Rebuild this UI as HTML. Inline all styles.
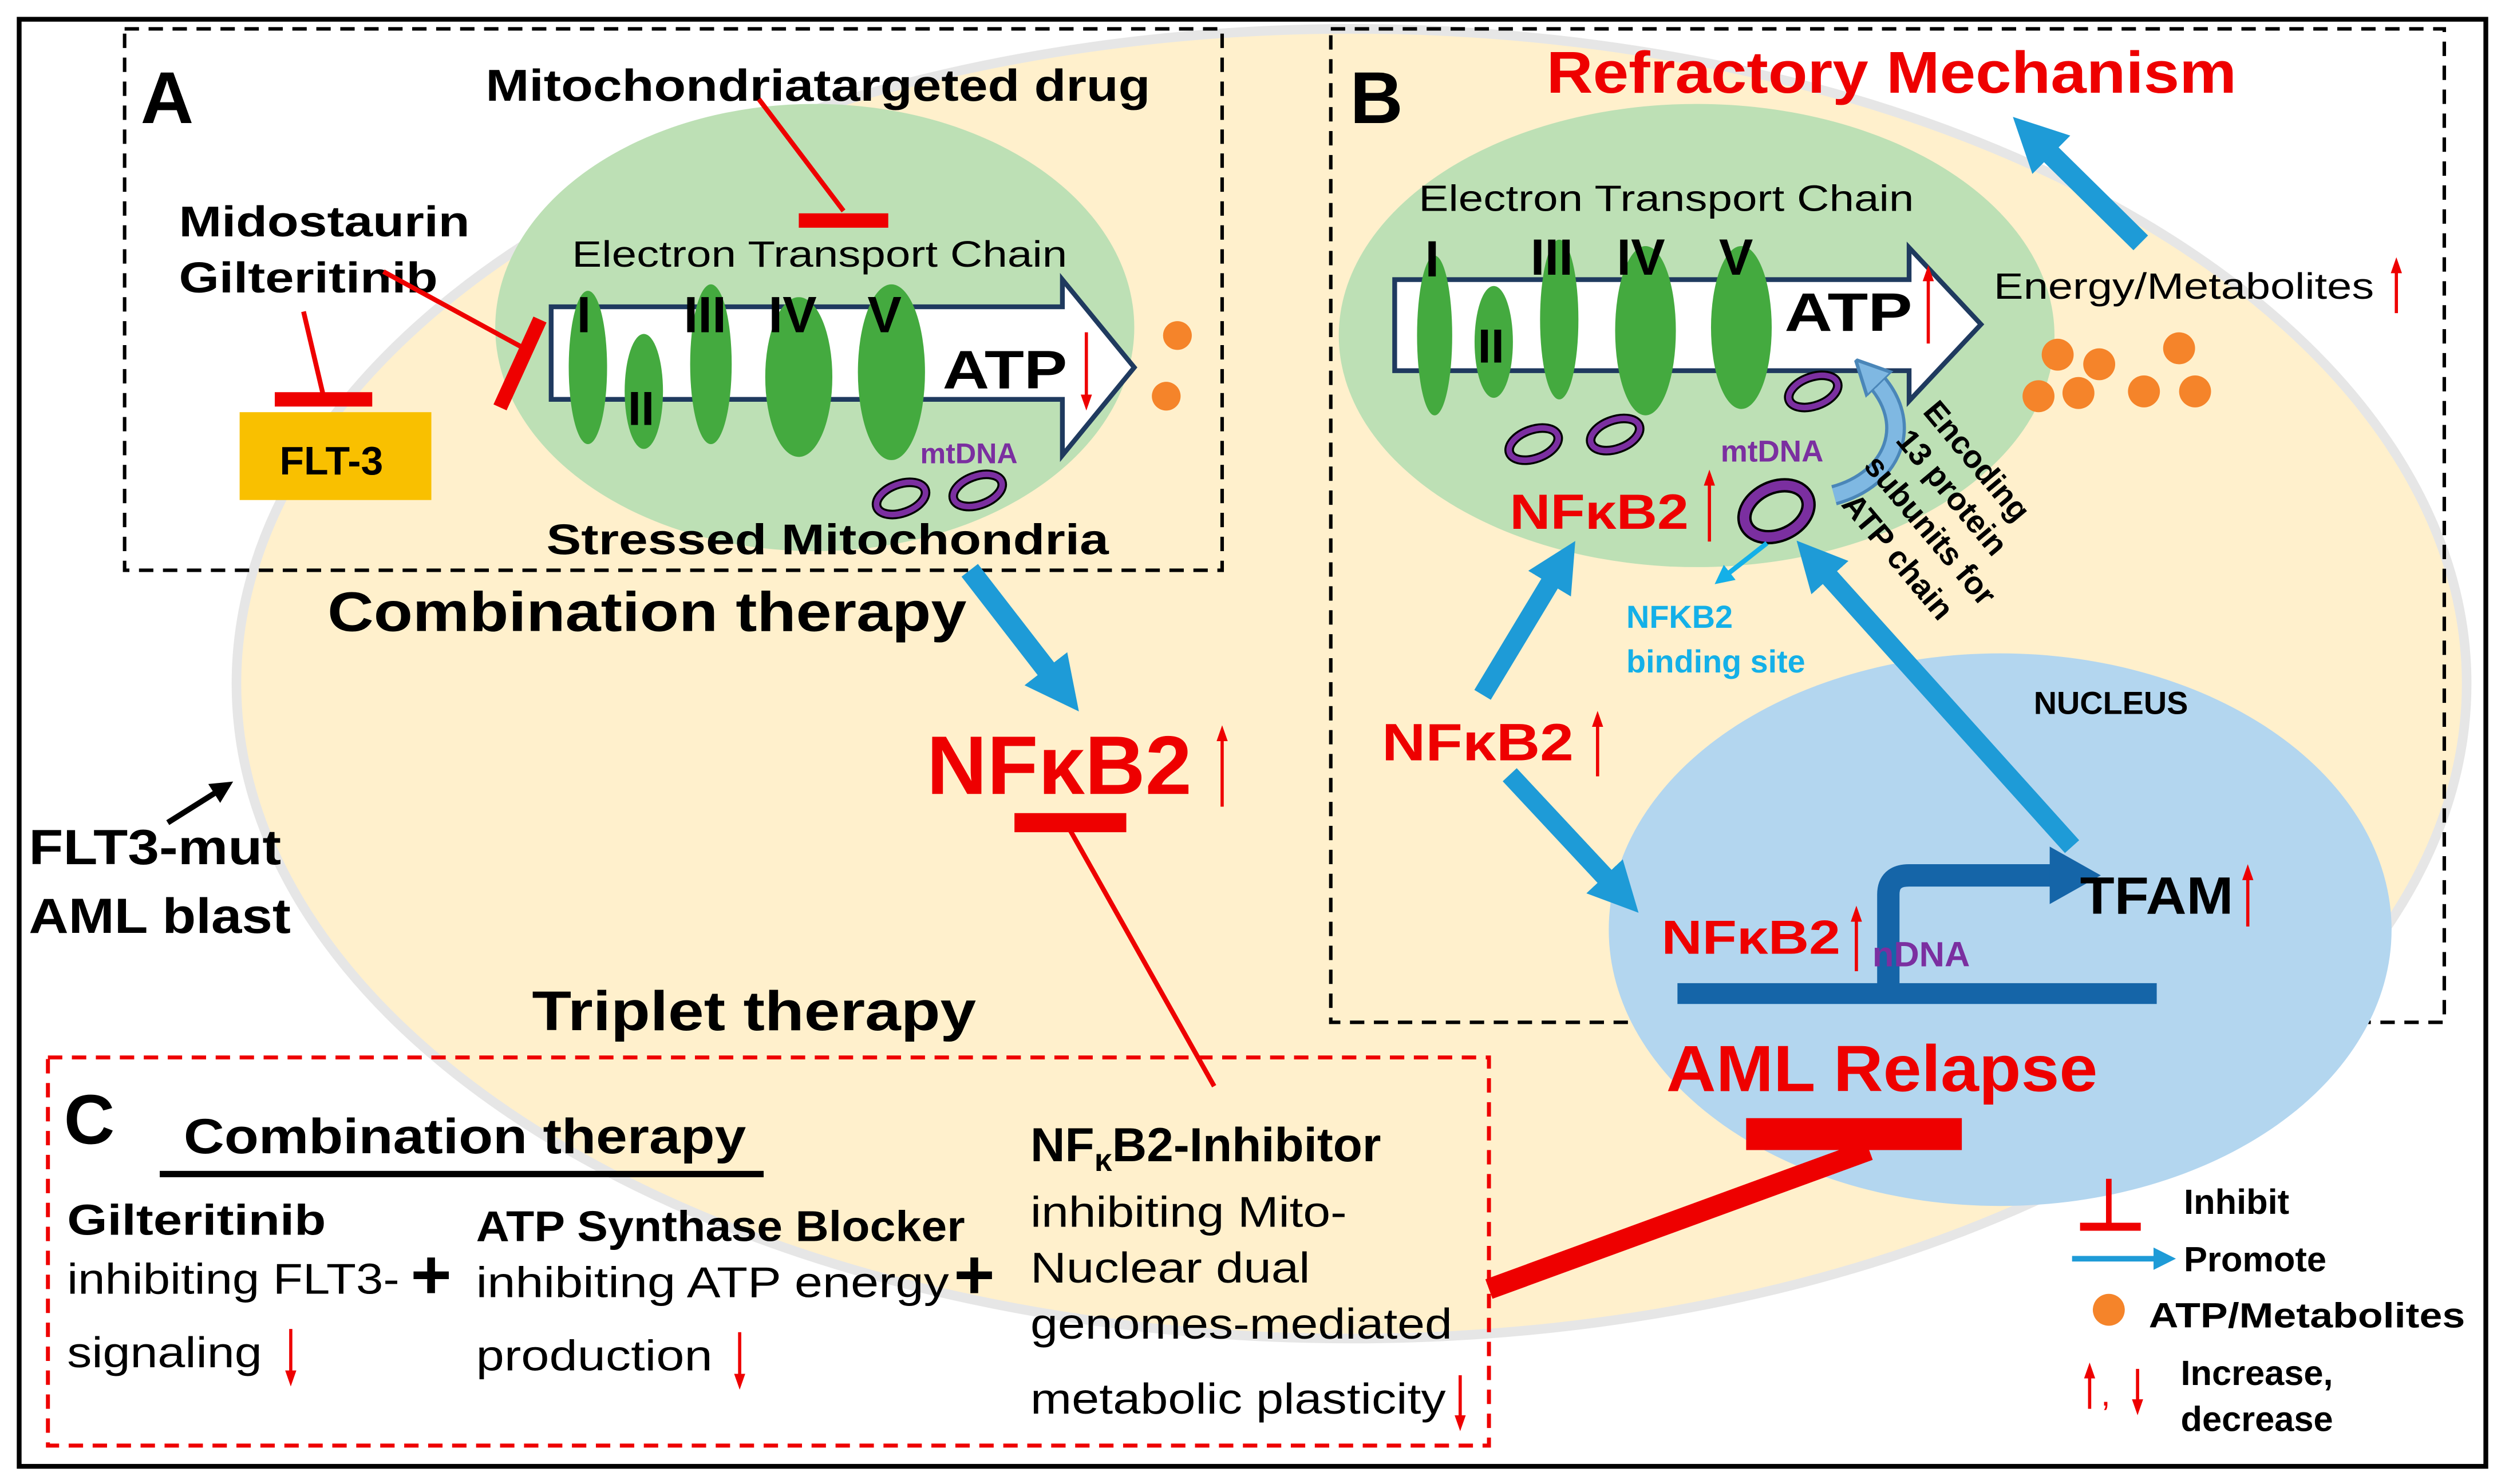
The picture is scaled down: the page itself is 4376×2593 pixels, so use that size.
<!DOCTYPE html>
<html><head><meta charset="utf-8"><style>
html,body{margin:0;padding:0;background:#fff;}
svg{display:block;}
text{font-family:"Liberation Sans",Arial,sans-serif;}
.b{font-weight:bold;}
</style></head><body>
<svg width="4376" height="2593" viewBox="0 0 1568 929" xmlns="http://www.w3.org/2000/svg">
<defs>
<marker id="ah" viewBox="0 0 10 10" refX="5" refY="5" markerWidth="2.6" markerHeight="2.6" orient="auto"><path d="M0,0 L10,5 L0,10 z" fill="#1E9BD7"/></marker>
<marker id="ahs" viewBox="0 0 10 10" refX="5" refY="5" markerWidth="4" markerHeight="4" orient="auto"><path d="M0,0 L10,5 L0,10 z" fill="#14B0E8"/></marker>
<marker id="ahk" viewBox="0 0 10 10" refX="5" refY="5" markerWidth="4" markerHeight="4" orient="auto"><path d="M0,0 L10,5 L0,10 z" fill="#000"/></marker>
<marker id="ahl" viewBox="0 0 10 10" refX="5" refY="5" markerWidth="4" markerHeight="4" orient="auto"><path d="M0,0 L10,5 L0,10 z" fill="#1E9BD7"/></marker>
<marker id="ahc" viewBox="0 0 10 10" refX="3" refY="5" markerWidth="2.4" markerHeight="3" orient="auto"><path d="M0,0 L10,5 L0,10 z" fill="#7FB8E2" stroke="#4A86B8" stroke-width="1"/></marker>
<marker id="ra" viewBox="0 0 10 10" refX="6" refY="5" markerWidth="5" markerHeight="5" orient="auto" markerUnits="strokeWidth"><path d="M0,1.5 L10,5 L0,8.5 z" fill="#E00"/></marker>
</defs>
<rect x="0" y="0" width="1568" height="929" fill="#fff"/>
<ellipse cx="846" cy="428" rx="698" ry="410" fill="#FFF0CC" stroke="#E6E6E6" stroke-width="6"/>
<rect x="12" y="12" width="1544" height="906" fill="none" stroke="#000" stroke-width="3"/>

<!-- Box A -->
<rect x="78" y="18" width="687" height="339" fill="none" stroke="#000" stroke-width="2.2" stroke-dasharray="9,6"/>
<text x="88" y="77" class="b" font-size="46">A</text>
<ellipse cx="510" cy="205" rx="200" ry="140" fill="#BDE0B5"/>
<path d="M345,192 L665,192 L665,175 L710,230 L665,285 L665,250 L345,250 Z" fill="#fff" stroke="#1F3A5F" stroke-width="3"/>
<ellipse cx="368" cy="230" rx="12" ry="48" fill="#44AA3F"/>
<ellipse cx="403" cy="245" rx="12" ry="36" fill="#44AA3F"/>
<ellipse cx="445" cy="228" rx="13" ry="50" fill="#44AA3F"/>
<ellipse cx="500" cy="236" rx="21" ry="50" fill="#44AA3F"/>
<ellipse cx="558" cy="233" rx="21" ry="55" fill="#44AA3F"/>
<text x="361" y="208" class="b" font-size="32">I</text>
<text x="393" y="266" class="b" font-size="30">II</text>
<text x="428" y="208" class="b" font-size="32">III</text>
<text x="481" y="208" class="b" font-size="32">IV</text>
<text x="543" y="208" class="b" font-size="32">V</text>
<text x="590" y="243" class="b" font-size="34" textLength="78" lengthAdjust="spacingAndGlyphs">ATP</text>
<text x="358" y="167" font-size="23" textLength="310" lengthAdjust="spacingAndGlyphs">Electron Transport Chain</text>
<circle cx="737" cy="210" r="9" fill="#F5842A"/>
<circle cx="730" cy="248" r="9" fill="#F5842A"/>
<ellipse cx="564" cy="312" rx="16" ry="9" fill="none" stroke="#000" stroke-width="6" transform="rotate(-20 564 312)"/>
<ellipse cx="564" cy="312" rx="16" ry="9" fill="none" stroke="#7B2FA0" stroke-width="3.5" transform="rotate(-20 564 312)"/>
<ellipse cx="612" cy="307" rx="16" ry="9" fill="none" stroke="#000" stroke-width="6" transform="rotate(-20 612 307)"/>
<ellipse cx="612" cy="307" rx="16" ry="9" fill="none" stroke="#7B2FA0" stroke-width="3.5" transform="rotate(-20 612 307)"/>
<text x="576" y="290" class="b" font-size="18" fill="#7B2FA0">mtDNA</text>
<text x="342" y="347" class="b" font-size="27" textLength="352" lengthAdjust="spacingAndGlyphs">Stressed Mitochondria</text>
<text x="304" y="63" class="b" font-size="28" textLength="416" lengthAdjust="spacingAndGlyphs">Mitochondriatargeted drug</text>
<line x1="475" y1="62" x2="528" y2="132" stroke="#E00" stroke-width="3"/>
<line x1="500" y1="138" x2="556" y2="138" stroke="#E00" stroke-width="9"/>
<text x="112" y="148" class="b" font-size="27" textLength="182" lengthAdjust="spacingAndGlyphs">Midostaurin</text>
<text x="112" y="183" class="b" font-size="27" textLength="162" lengthAdjust="spacingAndGlyphs">Gilteritinib</text>
<line x1="190" y1="195" x2="202" y2="246" stroke="#E00" stroke-width="3"/>
<line x1="172" y1="250" x2="233" y2="250" stroke="#E00" stroke-width="9"/>
<rect x="150" y="258" width="120" height="55" fill="#F9C000"/>
<text x="175" y="297" class="b" font-size="25">FLT-3</text>
<line x1="240" y1="170" x2="328" y2="218" stroke="#E00" stroke-width="3"/>
<line x1="313" y1="255" x2="338" y2="200" stroke="#E00" stroke-width="9"/>
<text x="205" y="395" class="b" font-size="35" textLength="400" lengthAdjust="spacingAndGlyphs">Combination therapy</text>
<line x1="607" y1="357" x2="665" y2="432" stroke="#1E9BD7" stroke-width="13" marker-end="url(#ah)"/>
<text x="580" y="497" class="b" font-size="52" fill="#E00" textLength="166" lengthAdjust="spacingAndGlyphs">NFκB2</text>
<line x1="635" y1="515" x2="705" y2="515" stroke="#E00" stroke-width="12"/>
<line x1="670" y1="520" x2="760" y2="680" stroke="#E00" stroke-width="3"/>
<text x="18" y="541" class="b" font-size="31" textLength="158" lengthAdjust="spacingAndGlyphs">FLT3-mut</text>
<text x="18" y="584" class="b" font-size="31" textLength="164" lengthAdjust="spacingAndGlyphs">AML blast</text>
<line x1="105" y1="515" x2="140" y2="493" stroke="#000" stroke-width="3.5" marker-end="url(#ahk)"/>
<text x="333" y="645" class="b" font-size="35" textLength="278" lengthAdjust="spacingAndGlyphs">Triplet therapy</text>

<!-- Box B -->
<rect x="833" y="18" width="697" height="622" fill="none" stroke="#000" stroke-width="2.2" stroke-dasharray="9,6"/>
<text x="845" y="77" class="b" font-size="46">B</text>
<text x="968" y="58" class="b" font-size="37" fill="#E00" textLength="432" lengthAdjust="spacingAndGlyphs">Refractory Mechanism</text>
<line x1="1340" y1="152" x2="1272" y2="85" stroke="#1E9BD7" stroke-width="13" marker-end="url(#ah)"/>
<ellipse cx="1062" cy="210" rx="224" ry="145" fill="#BDE0B5"/>
<path d="M873,175 L1195,175 L1195,155 L1240,203 L1195,251 L1195,232 L873,232 Z" fill="#fff" stroke="#1F3A5F" stroke-width="3"/>
<ellipse cx="898" cy="210" rx="11" ry="50" fill="#44AA3F"/>
<ellipse cx="935" cy="214" rx="12" ry="35" fill="#44AA3F"/>
<ellipse cx="976" cy="200" rx="12" ry="50" fill="#44AA3F"/>
<ellipse cx="1030" cy="207" rx="19" ry="53" fill="#44AA3F"/>
<ellipse cx="1090" cy="205" rx="19" ry="51" fill="#44AA3F"/>
<text x="892" y="173" class="b" font-size="32">I</text>
<text x="925" y="227" class="b" font-size="30">II</text>
<text x="958" y="172" class="b" font-size="32">III</text>
<text x="1012" y="172" class="b" font-size="32">IV</text>
<text x="1076" y="172" class="b" font-size="32">V</text>
<text x="1117" y="207" class="b" font-size="34" textLength="80" lengthAdjust="spacingAndGlyphs">ATP</text>
<text x="888" y="132" font-size="23" textLength="310" lengthAdjust="spacingAndGlyphs">Electron Transport Chain</text>
<text x="1248" y="187" font-size="23" textLength="238" lengthAdjust="spacingAndGlyphs">Energy/Metabolites</text>
<g fill="#F5842A">
<circle cx="1288" cy="222" r="10"/><circle cx="1314" cy="228" r="10"/><circle cx="1364" cy="218" r="10"/>
<circle cx="1276" cy="248" r="10"/><circle cx="1301" cy="246" r="10"/><circle cx="1342" cy="245" r="10"/><circle cx="1374" cy="245" r="10"/>
</g>
<g fill="none">
<ellipse cx="960" cy="278" rx="16" ry="9" stroke="#000" stroke-width="6" transform="rotate(-20 960 278)"/>
<ellipse cx="960" cy="278" rx="16" ry="9" stroke="#7B2FA0" stroke-width="3.5" transform="rotate(-20 960 278)"/>
<ellipse cx="1011" cy="272" rx="16" ry="9" stroke="#000" stroke-width="6" transform="rotate(-20 1011 272)"/>
<ellipse cx="1011" cy="272" rx="16" ry="9" stroke="#7B2FA0" stroke-width="3.5" transform="rotate(-20 1011 272)"/>
<ellipse cx="1135" cy="245" rx="16" ry="9" stroke="#000" stroke-width="6" transform="rotate(-20 1135 245)"/>
<ellipse cx="1135" cy="245" rx="16" ry="9" stroke="#7B2FA0" stroke-width="3.5" transform="rotate(-20 1135 245)"/>
<ellipse cx="1112" cy="320" rx="21" ry="15" stroke="#000" stroke-width="9" transform="rotate(-25 1112 320)"/>
<ellipse cx="1112" cy="320" rx="21" ry="15" stroke="#7B2FA0" stroke-width="6" transform="rotate(-25 1112 320)"/>
</g>
<text x="1077" y="289" class="b" font-size="19" fill="#7B2FA0">mtDNA</text>
<text x="945" y="331" class="b" font-size="31" fill="#E00" textLength="112" lengthAdjust="spacingAndGlyphs">NFκB2</text>
<path d="M1148,310 C1185,300 1200,265 1172,236" fill="none" stroke="#4A86B8" stroke-width="13"/>
<path d="M1148,310 C1185,300 1200,265 1172,236" fill="none" stroke="#7FB8E2" stroke-width="9" marker-end="url(#ahc)"/>
<g font-size="20" font-weight="bold">
<text transform="translate(1203,258) rotate(50)">Encoding</text>
<text transform="translate(1186,276) rotate(50)">13 protein</text>
<text transform="translate(1166,292) rotate(50)">subunits for</text>
<text transform="translate(1152,316) rotate(50)">ATP chain</text>
</g>
<line x1="1106" y1="340" x2="1078" y2="362" stroke="#14B0E8" stroke-width="3" marker-end="url(#ahs)"/>
<text x="1018" y="393" class="b" font-size="20" fill="#14B0E8">NFKB2</text>
<text x="1018" y="421" class="b" font-size="20" fill="#14B0E8" textLength="112" lengthAdjust="spacingAndGlyphs">binding site</text>

<!-- nucleus -->
<ellipse cx="1252" cy="582" rx="245" ry="173" fill="#B3D6EF"/>
<text x="1273" y="447" font-size="20" class="b">NUCLEUS</text>
<text x="865" y="476" class="b" font-size="33" fill="#E00" textLength="120" lengthAdjust="spacingAndGlyphs">NFκB2</text>
<line x1="928" y1="435" x2="978" y2="352" stroke="#1E9BD7" stroke-width="12" marker-end="url(#ah)"/>
<line x1="945" y1="485" x2="1015" y2="560" stroke="#1E9BD7" stroke-width="12" marker-end="url(#ah)"/>
<line x1="1297" y1="530" x2="1135" y2="350" stroke="#1E9BD7" stroke-width="12" marker-end="url(#ah)"/>
<line x1="1050" y1="622" x2="1350" y2="622" stroke="#1565A8" stroke-width="13"/>
<path d="M1182,617 L1182,560 Q1182,548 1195,548 L1285,548" fill="none" stroke="#1565A8" stroke-width="14"/>
<path d="M1283,530 L1315,548 L1283,566 Z" fill="#1565A8"/>
<text x="1040" y="597" class="b" font-size="30" fill="#E00" textLength="112" lengthAdjust="spacingAndGlyphs">NFκB2</text>
<text x="1172" y="605" class="b" font-size="22" fill="#7B2FA0">nDNA</text>
<text x="1302" y="572" class="b" font-size="33" textLength="96" lengthAdjust="spacingAndGlyphs">TFAM</text>
<text x="1043" y="683" class="b" font-size="41" fill="#E00" textLength="270" lengthAdjust="spacingAndGlyphs">AML Relapse</text>
<line x1="1093" y1="710" x2="1228" y2="710" stroke="#E00" stroke-width="20"/>
<line x1="1170" y1="720" x2="932" y2="807" stroke="#E00" stroke-width="13"/>

<!-- Legend -->
<line x1="1320" y1="738" x2="1320" y2="768" stroke="#E00" stroke-width="3.5"/>
<line x1="1302" y1="768" x2="1340" y2="768" stroke="#E00" stroke-width="5"/>
<text x="1367" y="760" class="b" font-size="22">Inhibit</text>
<line x1="1297" y1="788" x2="1355" y2="788" stroke="#1E9BD7" stroke-width="3.5" marker-end="url(#ahl)"/>
<text x="1367" y="796" class="b" font-size="22">Promote</text>
<circle cx="1320" cy="820" r="10" fill="#F5842A"/>
<text x="1345" y="831" class="b" font-size="22" textLength="198" lengthAdjust="spacingAndGlyphs">ATP/Metabolites</text>
<text x="1365" y="867" class="b" font-size="22">Increase,</text>
<text x="1365" y="896" class="b" font-size="22">decrease</text>
<text x="1315" y="880" font-size="22" fill="#E00">,</text>

<!-- Box C -->
<rect x="30" y="662" width="902" height="243" fill="none" stroke="#E00" stroke-width="2.5" stroke-dasharray="9,6"/>
<text x="40" y="716" class="b" font-size="44">C</text>
<text x="115" y="722" class="b" font-size="31" textLength="352" lengthAdjust="spacingAndGlyphs">Combination therapy</text>
<line x1="100" y1="735" x2="478" y2="735" stroke="#000" stroke-width="4"/>
<text x="42" y="773" class="b" font-size="27" textLength="162" lengthAdjust="spacingAndGlyphs">Gilteritinib</text>
<text x="42" y="810" font-size="27" textLength="208" lengthAdjust="spacingAndGlyphs">inhibiting FLT3-</text>
<text x="42" y="856" font-size="27" textLength="122" lengthAdjust="spacingAndGlyphs">signaling</text>
<text x="257" y="813" class="b" font-size="44">+</text>
<text x="298" y="777" class="b" font-size="27" textLength="306" lengthAdjust="spacingAndGlyphs">ATP Synthase Blocker</text>
<text x="298" y="812" font-size="27" textLength="296" lengthAdjust="spacingAndGlyphs">inhibiting ATP energy</text>
<text x="298" y="858" font-size="27" textLength="148" lengthAdjust="spacingAndGlyphs">production</text>
<text x="597" y="813" class="b" font-size="44">+</text>
<text x="645" y="727" class="b" font-size="30">NF<tspan font-size="20" dy="6">κ</tspan><tspan dy="-6">B2-Inhibitor</tspan></text>
<text x="645" y="768" font-size="27" textLength="198" lengthAdjust="spacingAndGlyphs">inhibiting Mito-</text>
<text x="645" y="803" font-size="27" textLength="175" lengthAdjust="spacingAndGlyphs">Nuclear dual</text>
<text x="645" y="838" font-size="27" textLength="264" lengthAdjust="spacingAndGlyphs">genomes-mediated</text>
<text x="645" y="885" font-size="27" textLength="260" lengthAdjust="spacingAndGlyphs">metabolic plasticity</text>

<!-- red small arrows (on top) -->
<g stroke="#E00" stroke-width="2" marker-end="url(#ra)" fill="none">
<line x1="680" y1="208" x2="680" y2="253"/>
<line x1="765" y1="505" x2="765" y2="458"/>
<line x1="1207" y1="215" x2="1207" y2="170"/>
<line x1="1500" y1="196" x2="1500" y2="165"/>
<line x1="1070" y1="339" x2="1070" y2="298"/>
<line x1="1000" y1="486" x2="1000" y2="449"/>
<line x1="1162" y1="608" x2="1162" y2="571"/>
<line x1="1407" y1="580" x2="1407" y2="545"/>
<line x1="182" y1="832" x2="182" y2="864"/>
<line x1="463" y1="834" x2="463" y2="866"/>
<line x1="914" y1="861" x2="914" y2="892"/>
<line x1="1308" y1="882" x2="1308" y2="857"/>
<line x1="1338" y1="857" x2="1338" y2="882"/>
</g>
</svg>
</body></html>
